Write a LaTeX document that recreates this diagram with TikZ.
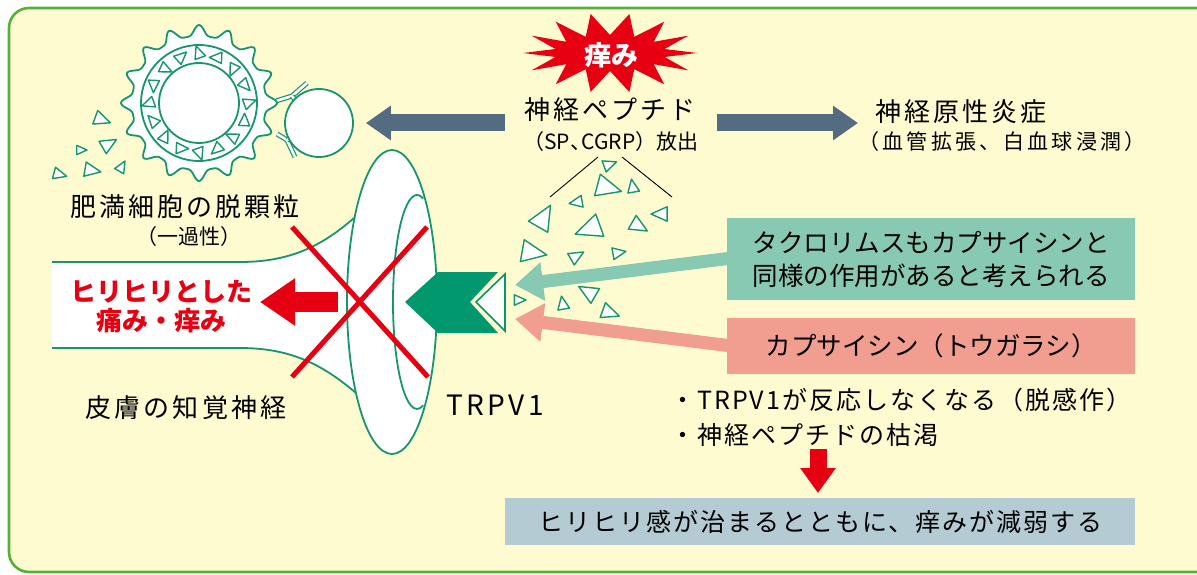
\documentclass[tikz,border=0pt]{standalone}
\usepackage{fontspec}
\setmainfont{Noto Sans CJK JP}
\newfontfamily\widejp[LetterSpace=12]{Noto Sans CJK JP}
\newfontfamily\airyjp[LetterSpace=15]{Noto Sans CJK JP}
\newfontfamily\snugjp[LetterSpace=8]{Noto Sans CJK JP}
\usepackage{tikz}
\usetikzlibrary{arrows.meta,positioning}
\definecolor{cream}{HTML}{FFFBD0}
\definecolor{leaf}{HTML}{55B035}
\definecolor{nerve}{HTML}{17956E}
\definecolor{trpv}{HTML}{00986C}
\definecolor{slate}{HTML}{546C82}
\definecolor{sting}{HTML}{E60012}
\definecolor{tacrofill}{HTML}{88C9B4}
\definecolor{capsfill}{HTML}{F19D90}
\definecolor{calmfill}{HTML}{B5CBD3}
\newcommand{\lblfont}{\widejp\fontsize{26}{30}\selectfont}
\newcommand{\sublblfont}{\fontsize{21}{26}\selectfont}
\newcommand{\notefont}{\fontsize{25.5}{33}\selectfont}
\newcommand{\grain}[3]{\draw[grain, shift={#1}, rotate=#2, scale=#3] (0:1) -- (125:0.8) -- (235:0.8) -- cycle;}
\tikzset{
  nerveline/.style={draw=nerve, line width=1.8pt},
  grain/.style={draw=nerve, fill=white, line width=1.4pt, line join=round},
  antibody/.style={draw=nerve, double=white, double distance=2.6pt, line width=1.2pt},
  lbl/.style={inner sep=0pt, font=\lblfont},
  sublbl/.style={inner sep=0pt, font=\sublblfont},
  notebox/.style={rectangle, inner xsep=20pt, inner ysep=0pt, anchor=west, font=\notefont},
  mainflow/.style={draw=slate, line width=17pt, -{Triangle[length=25pt,width=33pt]}},
  drugflow/.style={line width=13pt, -{Triangle[length=28pt,width=37pt]}},
  cross/.style={draw=sting, line width=5pt},
}

\begin{document}
\begin{tikzpicture}[x=1pt, y=-1pt]
\fill[white] (0,0) rectangle (1197,575);
\useasboundingbox (0,0) rectangle (1197,575);
\draw[leaf, line width=2.6pt, fill=cream, rounded corners=20pt] (9,8) rectangle (1240,572);

% mast cell with its granules
\draw[antibody] (276,101) -- (292,96) -- (307,83);
\draw[antibody] (292,96) -- (298,104);
\draw[antibody] (277,134) -- (287,140) -- (295,157);
\draw[antibody] (287,140) -- (296,136);
\draw[nerveline, fill=white, shift={(199,103)}]
  plot[domain=0:360, samples=361] (\x:{67+11*((1+cos(16*\x))/2)^2}) -- cycle;
\draw[nerveline] (199,103) circle[radius=58];
\draw[nerveline] (199,103) circle[radius=40];
\begin{scope}[shift={(199,103)}]
  \foreach \a in {0,22.5,...,337.5} {\grain{(\a:49)}{\a*3+20}{8.5}}
\end{scope}
\node[circle, nerveline, fill=white, minimum size=68pt, inner sep=0pt] (bead) at (319,123) {};
\foreach \x/\y/\r/\s in {100/119/-20/11, 80/150/0/7, 107/145/30/11, 90/170/-10/11, 121/168/60/8, 58/174/-15/9}
  {\grain{(\x,\y)}{\r}{\s}}

% itch burst
\fill[sting, shift={(610,53)}] (0:87 and 40)
  \foreach \k in {0,...,13} { -- ({\k*360/14}:87 and 40) -- ({(\k+0.5)*360/14}:56 and 18) } -- cycle;
\node[inner sep=0pt, text=white, font=\bfseries\fontsize{27}{30}\selectfont] (itch) at (611,55) {痒み};

\node[lbl] (pep) at (610,110) {神経ペプチド};
\node[sublbl] (pepsub) at (611,142) {（SP、\kern-0.45em CGRP）放出};
\node[lbl] (inflam) at (961,112) {神経原性炎症};
\node[sublbl, font={\sublblfont\airyjp}] (inflamsub) at (1002,142) {（血管拡張、白血球浸潤）};
\node[lbl] (mastlbl) at (185,207) {肥満細胞の脱顆粒};
\node[sublbl] (mastsub) at (189,237) {（一過性）};
\node[lbl] (nervelbl) at (186,408) {皮膚の知覚神経};
\node[inner sep=0pt, font=\widejp\fontsize{28}{30}\selectfont] (trpvlbl) at (495,405) {TRPV1};

\coordinate (pepL) at (505,123);
\coordinate (pepR) at (717,123);
\coordinate (inflamL) at (858,123);
\draw[mainflow] (pepL) -- ([xshift=12pt]bead.east);
\draw[mainflow] (pepR) -- (inflamL);

% sensory nerve ending
\fill[white] (52,262) -- (240,262) .. controls (290,262) and (322,246) .. (354,218) -- (375,302)
  -- (356,393) .. controls (322,364) and (290,348) .. (240,348) -- (52,348) -- cycle;
\draw[nerveline] (52,262) -- (240,262) .. controls (290,262) and (322,246) .. (354,218);
\draw[nerveline] (52,348) -- (240,348) .. controls (290,348) and (322,364) .. (356,393);
\draw[nerveline, fill=white] (392,302) ellipse [x radius=45, y radius=152];
\draw[nerveline] (417,302) ++(285:24 and 107) arc[start angle=285, end angle=75, x radius=24, y radius=107];
\draw[cross] (292,227) -- (428,377);
\draw[cross] (427,227) -- (292,377);

\coordinate (painfrom) at (338,302);
\coordinate (paintip) at (260,302);
\draw[draw=sting, line width=20pt, -{Triangle[length=35pt,width=45pt]}] (painfrom) -- (paintip);
\node[inner sep=0pt, align=center, text=sting, font=\bfseries\fontsize{26}{29}\selectfont] (pain) at (161,307)
  {ヒリヒリとした\\痛み・痒み};

% TRPV1 channel
\fill[trpv] (405,302) -- (438,272) -- (498,272) -- (470,302) -- (498,333) -- (438,333) -- cycle;
\draw[draw=trpv, fill=white, line width=1.6pt] (476,302) -- (505,274) -- (505,331) -- cycle;

% released peptides
\draw[line width=0.9pt] (598,157) -- (550,197);
\draw[line width=0.9pt] (622,157) -- (672,197);
\foreach \x/\y/\r/\s in {608/165/20/9, 605/187/-15/17, 633/188/100/9, 578/202/190/9, 542/220/60/17,
  592/228/200/18, 637/225/-30/12, 662/214/180/11, 530/252/-10/17, 575/257/30/10, 617/253/10/9,
  590/293/150/13, 563/305/100/9, 608/312/-20/12, 518/300/0/8}
  {\grain{(\x,\y)}{\r}{\s}}

\coordinate (tacrotip) at (515,285);
\coordinate (capstip) at (515,319);
\draw[drugflow, draw=tacrofill] (740,257) -- (tacrotip);
\draw[drugflow, draw=capsfill] (740,347) -- (capstip);
\node[notebox, fill=tacrofill, minimum width=408pt, minimum height=82pt, align=left] (tacro) at (727,259)
  {タクロリムスもカプサイシンと\\同様の作用があると考えられる};
\node[notebox, fill=capsfill, minimum width=408pt, minimum height=56pt] (caps) at (727,346)
  {カプサイシン（トウガラシ）};

\node[inner sep=0pt, anchor=west, align=left, font=\snugjp\fontsize{25}{35}\selectfont] (effects) at (670,417)
  {・TRPV1が反応しなくなる（脱感作）\\・神経ペプチドの枯渇};
\node[notebox, fill=calmfill, minimum width=630pt, minimum height=47pt, font=\snugjp\fontsize{25}{30}\selectfont]
  (calm) at (505,521.5) {ヒリヒリ感が治まるとともに、痒みが減弱する};
\coordinate (dropfrom) at (818,449);
\coordinate (dropto) at (818,493);
\draw[draw=sting, line width=17pt, -{Triangle[length=25pt,width=34pt]}] (dropfrom) -- (dropto);
\end{tikzpicture}
\end{document}
